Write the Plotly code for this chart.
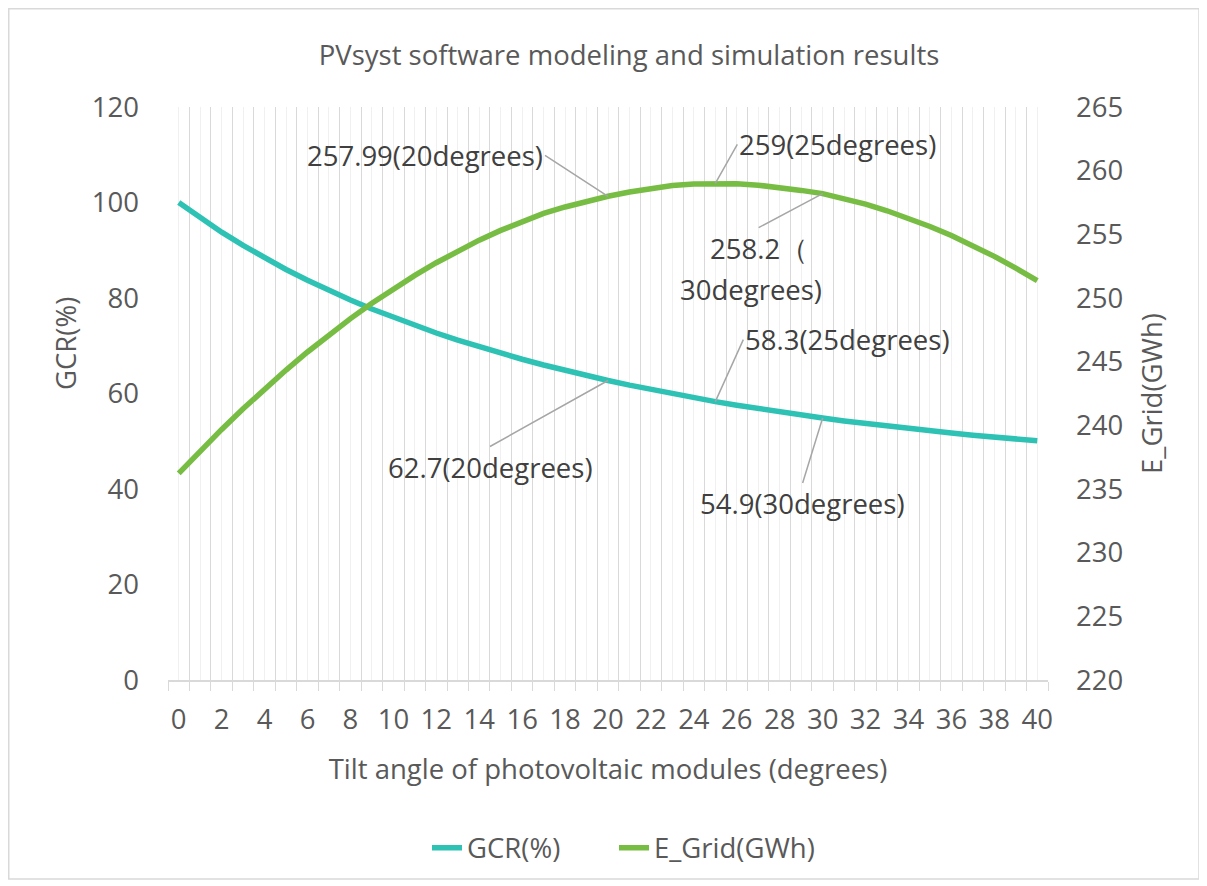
import plotly.graph_objects as go

# ---------------- data ----------------
TILT = list(range(0, 41))
X_LABELS = [str(t) if t % 2 == 0 else "" for t in TILT]

GCR = [100.0, 96.78, 93.79, 91.01, 88.41, 85.98, 83.71, 81.58, 79.58, 77.69,
       75.92, 74.25, 72.67, 71.18, 69.77, 68.43, 67.17, 65.97, 64.83, 63.75,
       62.72, 61.75, 60.82, 59.94, 59.10, 58.30, 57.54, 56.82, 56.13, 55.48,
       54.85, 54.26, 53.70, 53.16, 52.65, 52.17, 51.71, 51.27, 50.85, 50.46,
       50.09]

E_GRID = [236.23, 237.99, 239.68, 241.30, 242.86, 244.34, 245.76, 247.11, 248.38, 249.59,
          250.72, 251.78, 252.77, 253.69, 254.54, 255.31, 256.01, 256.64, 257.15, 257.62,
          257.99, 258.33, 258.62, 258.83, 258.96, 259.00, 258.97, 258.86, 258.69, 258.45,
          258.20, 257.82, 257.37, 256.85, 256.27, 255.62, 254.91, 254.12, 253.27, 252.35,
          251.36]

E_LABEL_IDX = [20, 25, 30]
E_LABELS = ["257.99(20degrees)", "259(25degrees)", "258.2（"]
E_LABEL_2ND = "30degrees)"
GCR_LABEL_IDX = [25, 20, 30]
GCR_LABELS = ["58.3(25degrees)", "62.7(20degrees)", "54.9(30degrees)"]

TITLE = "PVsyst software modeling and simulation results"
X_TITLE = "Tilt angle of photovoltaic modules (degrees)"
Y1_TITLE = "GCR(%)"
Y2_TITLE = "E_Grid(GWh)"

# ---------------- style ----------------
FONT = "Open Sans"
TXT = "#595959"
ANN = "#404040"
TEAL = "#2EC2B5"
GREEN = "#77BD43"
GRID_DARK = "#d9d9d9"
GRID_LIGHT = "#f0f0f0"
LEADER = "#a6a6a6"
FS = 27.5

W, H = 1199, 878
L, R, T, B = 160, 159, 99, 206
PW, PH = W - L - R, H - T - B

fig = go.Figure()
fig.add_trace(go.Scatter(x=TILT, y=GCR, name="GCR(%)", mode="lines",
                         line=dict(color=TEAL, width=5.5), yaxis="y", legend="legend"))
fig.add_trace(go.Scatter(x=TILT, y=E_GRID, name="E_Grid(GWh)", mode="lines",
                         line=dict(color=GREEN, width=5.5), yaxis="y2", legend="legend2"))

anns = []
# E_Grid annotations (right axis)
e_offsets = [(-63, -41, "right", "middle"), (22, -39, "left", "middle"), (-64, 34, "center", "top")]
for idx, txt, (ax, ay, xa, ya) in zip(E_LABEL_IDX, E_LABELS, e_offsets):
    anns.append(dict(x=TILT[idx], y=E_GRID[idx], xref="x", yref="y2", text=txt,
                     showarrow=True, arrowhead=0, arrowwidth=1.5, arrowcolor=LEADER,
                     ax=ax, ay=ay, xanchor=xa, yanchor=ya, standoff=0,
                     font=dict(family=FONT, size=FS, color=ANN)))
anns.append(dict(x=TILT[30], y=E_GRID[30], xref="x", yref="y2", text=E_LABEL_2ND,
                 showarrow=False, xshift=-72, yshift=-96,
                 font=dict(family=FONT, size=FS, color=ANN)))
# GCR annotations (left axis)
g_offsets = [(28, -62, "left", "middle"), (-118, 66, "center", "top"), (-20, 65, "center", "top")]
for idx, txt, (ax, ay, xa, ya) in zip(GCR_LABEL_IDX, GCR_LABELS, g_offsets):
    anns.append(dict(x=TILT[idx], y=GCR[idx], xref="x", yref="y", text=txt,
                     showarrow=True, arrowhead=0, arrowwidth=1.5, arrowcolor=LEADER,
                     ax=ax, ay=ay, xanchor=xa, yanchor=ya, standoff=0,
                     font=dict(family=FONT, size=FS, color=ANN)))
# left axis title
anns.append(dict(x=(57 - L) / PW, y=(T + PH - 336) / PH, xref="paper", yref="paper",
                 text=Y1_TITLE, showarrow=False, textangle=-90,
                 xanchor="center", yanchor="middle",
                 font=dict(family=FONT, size=FS, color=TXT)))

legend_common = dict(orientation="h", y=-0.293, yanchor="middle", xanchor="left",
                     font=dict(family=FONT, size=FS, color=TXT), bgcolor="rgba(0,0,0,0)")

fig.update_layout(
    width=W, height=H,
    margin=dict(l=L, r=R, t=T, b=B),
    paper_bgcolor="white", plot_bgcolor="white",
    font=dict(family=FONT, size=FS, color=TXT),
    title=dict(text=TITLE, x=621 / W, xanchor="center", xref="container",
               y=1 - 47 / H, yanchor="middle", yref="container",
               font=dict(family=FONT, size=FS, color=TXT)),
    showlegend=True,
    legend=dict(x=(419 - L) / PW, **legend_common),
    legend2=dict(x=(606 - L) / PW, **legend_common),
    xaxis=dict(range=[-0.5, 40.5], tickmode="array", tickvals=TILT, ticktext=X_LABELS,
               ticks="", showgrid=True, gridcolor=GRID_LIGHT, gridwidth=1.2,
               showline=True, linecolor=GRID_DARK, linewidth=1.5, zeroline=False,
               ticklabelstandoff=14,
               minor=dict(tickmode="linear", tick0=-0.5, dtick=1, ticks="outside",
                          ticklen=9, tickcolor=GRID_DARK, tickwidth=1.3,
                          showgrid=True, gridcolor=GRID_DARK, gridwidth=1.3),
               title=dict(text=X_TITLE, standoff=24,
                          font=dict(family=FONT, size=FS, color=TXT))),
    yaxis=dict(range=[0, 120], dtick=20, tick0=0, showgrid=False, zeroline=False,
               showline=False, ticks="", ticklabelstandoff=28),
    yaxis2=dict(range=[220, 265], dtick=5, tick0=220, overlaying="y", side="right",
                showgrid=False, zeroline=False, showline=False, ticks="",
                ticklabelstandoff=27,
                title=dict(text=Y2_TITLE, standoff=20,
                           font=dict(family=FONT, size=FS, color=TXT))),
    annotations=anns,
    shapes=[dict(type="rect", xref="paper", yref="paper",
                 x0=(0.75 - L) / PW, x1=(1191 - L) / PW,
                 y0=(T + PH - 871) / PH, y1=(T + PH - 0.75) / PH,
                 line=dict(color=GRID_DARK, width=1.5), layer="below")],
)

fig.write_html("out.html")
